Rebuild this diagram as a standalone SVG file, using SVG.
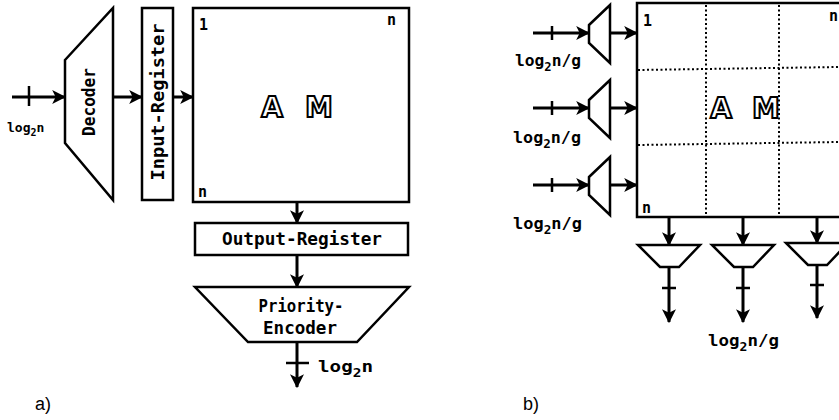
<svg xmlns="http://www.w3.org/2000/svg" width="839" height="420" viewBox="0 0 839 420">
<style>
.s{fill:#fff;stroke:#000;stroke-width:2.5}
.ln{stroke:#000;stroke-width:3;fill:none}
.tk{stroke:#000;stroke-width:2.5}
.dash{stroke:#000;stroke-width:2;stroke-dasharray:2 2.5;fill:none}
.t{font-family:"DejaVu Sans Mono","Liberation Mono",monospace;font-weight:bold;fill:#000}
.big{font-family:"DejaVu Sans","Liberation Sans",sans-serif;font-weight:bold;font-size:28px;fill:#fff;stroke:#000;stroke-width:2}
.cap{font-family:"Liberation Sans",Arial,sans-serif;font-size:18px;fill:#000}
</style>
<defs>
<marker id="ah" markerUnits="userSpaceOnUse" markerWidth="14" markerHeight="14" viewBox="0 0 12 12" refX="11" refY="6" orient="auto">
<path d="M0,0 L12,6 L0,12 L3,6 z" fill="#000"/>
</marker>
</defs>

<!-- a) -->
<g id="decoder-a">
<polygon class="s" points="65,60 113,8 113,200 65,143"/>
<text class="t" font-size="17" text-anchor="middle" transform="translate(95,102) rotate(-90)" textLength="68" lengthAdjust="spacingAndGlyphs">Decoder</text>
</g>
<g id="input-register">
<rect class="s" x="142" y="8" width="31" height="192"/>
<text class="t" font-size="18" text-anchor="middle" transform="translate(164,102) rotate(-90)" textLength="157" lengthAdjust="spacingAndGlyphs">Input-Register</text>
</g>
<g id="am-a">
<rect class="s" x="193" y="8" width="216" height="194"/>
<text class="t" font-size="15" x="199" y="30">1</text>
<text class="t" font-size="15" x="387" y="25">n</text>
<text class="t" font-size="15" x="198" y="197">n</text>
<text class="big" x="272" y="117" text-anchor="middle">A</text>
<text class="big" x="319" y="117" text-anchor="middle">M</text>
</g>
<g id="output-register">
<rect class="s" x="195" y="223" width="213" height="32"/>
<text class="t" font-size="18" x="302" y="245" text-anchor="middle" textLength="160" lengthAdjust="spacingAndGlyphs">Output-Register</text>
</g>
<g id="priority-encoder">
<polygon class="s" points="195,287 409,287 357,342 248,342"/>
<text class="t" font-size="18" x="301" y="312" text-anchor="middle" textLength="85" lengthAdjust="spacingAndGlyphs">Priority-</text>
<text class="t" font-size="18" x="300" y="334" text-anchor="middle" textLength="74" lengthAdjust="spacingAndGlyphs">Encoder</text>
</g>
<g id="labels-a">
<text class="t" font-size="13" x="7" y="132">log<tspan font-size="10" dy="4">2</tspan><tspan dy="-4">n</tspan></text>
<text class="t" font-size="16" x="318" y="372" textLength="55" lengthAdjust="spacingAndGlyphs">log<tspan font-size="12" dy="5">2</tspan><tspan dy="-5">n</tspan></text>
<text class="cap" x="35" y="410">a)</text>
</g>

<!-- b) -->
<g id="grid-b">
<rect class="s" x="637" y="3" width="230" height="214"/>
<line class="dash" x1="706" y1="5" x2="706" y2="216"/>
<line class="dash" x1="779" y1="5" x2="779" y2="216"/>
<line class="dash" x1="638" y1="70" x2="839" y2="67"/>
<line class="dash" x1="638" y1="145" x2="839" y2="142"/>
<text class="t" font-size="15" x="643" y="26">1</text>
<text class="t" font-size="15" x="829" y="21">n</text>
<text class="t" font-size="15" x="642" y="213">n</text>
<text class="big" x="721" y="118" text-anchor="middle">A</text>
<text class="big" x="766" y="118" text-anchor="middle">M</text>
</g>
<g id="decoder-b1"><polygon class="s" points="589,25 610,5 610,63 589,43"/></g>
<g id="decoder-b2"><polygon class="s" points="589,100 610,80 610,138 589,118"/></g>
<g id="decoder-b3"><polygon class="s" points="589,177 610,157 610,215 589,195"/></g>
<g id="encoder-b1"><polygon class="s" points="638,245 700,245 679,267 660,267"/></g>
<g id="encoder-b2"><polygon class="s" points="712,245 774,245 753,267 734,267"/></g>
<g id="encoder-b3"><polygon class="s" points="786,243 848,243 827,265 808,265"/></g>
<g id="labels-b">
<text class="t" font-size="16" x="515" y="66" textLength="66" lengthAdjust="spacingAndGlyphs">log<tspan font-size="12" dy="5">2</tspan><tspan dy="-5">n/g</tspan></text>
<text class="t" font-size="16" x="513" y="143" textLength="68" lengthAdjust="spacingAndGlyphs">log<tspan font-size="12" dy="5">2</tspan><tspan dy="-5">n/g</tspan></text>
<text class="t" font-size="16" x="513" y="229" textLength="69" lengthAdjust="spacingAndGlyphs">log<tspan font-size="12" dy="5">2</tspan><tspan dy="-5">n/g</tspan></text>
<text class="t" font-size="16" x="708" y="346" textLength="71" lengthAdjust="spacingAndGlyphs">log<tspan font-size="12" dy="5">2</tspan><tspan dy="-5">n/g</tspan></text>
<text class="cap" x="523" y="410">b)</text>
</g>

<g id="connectors">
<line class="ln" x1="12" y1="97" x2="65" y2="97" marker-end="url(#ah)"/>
<line class="tk" x1="29" y1="86" x2="29" y2="106"/>
<line class="ln" x1="113" y1="97" x2="142" y2="97" marker-end="url(#ah)"/>
<line class="ln" x1="173" y1="97" x2="193" y2="97" marker-end="url(#ah)"/>
<line class="ln" x1="297" y1="202" x2="297" y2="223" marker-end="url(#ah)"/>
<line class="ln" x1="297" y1="255" x2="297" y2="287" marker-end="url(#ah)"/>
<line class="ln" x1="297" y1="342" x2="297" y2="387" marker-end="url(#ah)"/>
<line class="tk" x1="286" y1="363" x2="309" y2="363"/>

<line class="ln" x1="533" y1="33" x2="589" y2="33" marker-end="url(#ah)"/>
<line class="tk" x1="552" y1="26" x2="552" y2="40"/>
<line class="ln" x1="610" y1="33" x2="637" y2="33" marker-end="url(#ah)"/>
<line class="ln" x1="533" y1="108" x2="589" y2="108" marker-end="url(#ah)"/>
<line class="tk" x1="552" y1="101" x2="552" y2="115"/>
<line class="ln" x1="610" y1="108" x2="637" y2="108" marker-end="url(#ah)"/>
<line class="ln" x1="533" y1="185" x2="589" y2="185" marker-end="url(#ah)"/>
<line class="tk" x1="552" y1="178" x2="552" y2="192"/>
<line class="ln" x1="610" y1="185" x2="637" y2="185" marker-end="url(#ah)"/>

<line class="ln" x1="669" y1="217" x2="669" y2="245" marker-end="url(#ah)"/>
<line class="ln" x1="669" y1="267" x2="669" y2="322" marker-end="url(#ah)"/>
<line class="tk" x1="662" y1="288" x2="676" y2="288"/>
<line class="ln" x1="743" y1="217" x2="743" y2="245" marker-end="url(#ah)"/>
<line class="ln" x1="743" y1="267" x2="743" y2="322" marker-end="url(#ah)"/>
<line class="tk" x1="736" y1="288" x2="750" y2="288"/>
<line class="ln" x1="817" y1="216" x2="817" y2="243" marker-end="url(#ah)"/>
<line class="ln" x1="817" y1="265" x2="817" y2="318" marker-end="url(#ah)"/>
<line class="tk" x1="810" y1="285" x2="824" y2="285"/>
</g>
</svg>
